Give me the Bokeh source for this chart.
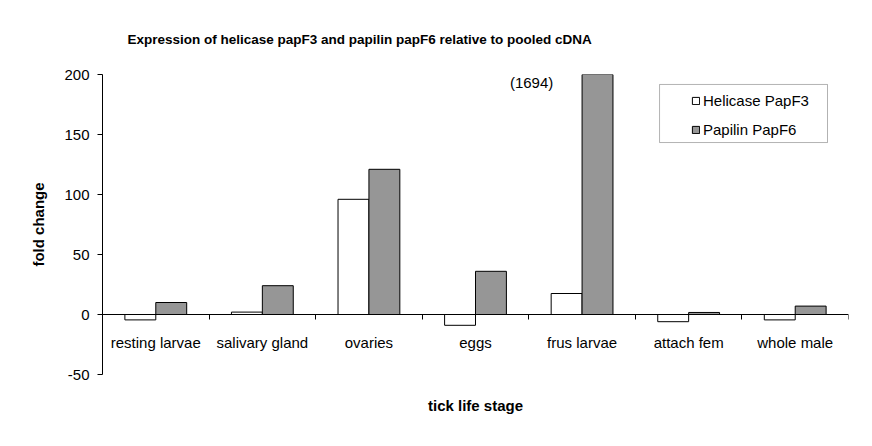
from bokeh.plotting import figure
from bokeh.models import (LinearAxis, FixedTicker, Label, Legend, LegendItem,
                          ColumnDataSource, Range1d, Title, BoxAnnotation)
from bokeh.embed import file_html
from bokeh.resources import INLINE

title_text = "Expression of helicase papF3 and papilin papF6 relative to pooled cDNA"
stages = ["resting larvae", "salivary gland", "ovaries", "eggs", "frus larvae", "attach fem", "whole male"]
helicase = [-4.5, 2, 96, -9, 17.5, -6, -4.5]
papilin = [10, 24, 121, 36, 1694, 1.7, 7]
y_ticks = [-50, 0, 50, 100, 150, 200]
FONT = "Liberation Sans"

centers = [i + 0.5 for i in range(len(stages))]
bounds = list(range(len(stages) + 1))
bw = 0.29
src_h = ColumnDataSource(dict(x=[c - bw / 2 for c in centers], top=helicase))
src_p = ColumnDataSource(dict(x=[c + bw / 2 for c in centers], top=papilin))

p = figure(width=856, height=440, output_backend="svg", toolbar_location=None,
           x_range=Range1d(0, len(stages)), y_range=Range1d(-50, 200),
           x_axis_location=None, y_axis_location="left",
           min_border_left=102, min_border_right=8, min_border_top=74, min_border_bottom=66)
p.outline_line_color = None
p.grid.visible = False
p.background_fill_color = "white"

rh = p.vbar(x="x", top="top", bottom=0, width=bw, source=src_h,
            fill_color="white", line_color="black", line_width=1)
rp = p.vbar(x="x", top="top", bottom=0, width=bw, source=src_p,
            fill_color="#969696", line_color="black", line_width=1)

# y axis
ya = p.yaxis[0]
ya.ticker = FixedTicker(ticks=y_ticks)
ya.major_label_overrides = {t: str(t) for t in y_ticks}
ya.axis_label = "fold change"
ya.axis_label_text_font = FONT
ya.axis_label_text_font_style = "bold"
ya.axis_label_text_font_size = "15px"
ya.axis_label_text_color = "black"
ya.axis_label_standoff = 14
ya.major_label_text_font = FONT
ya.major_label_text_font_size = "15px"
ya.major_label_text_color = "black"
ya.major_tick_in = 0
ya.major_tick_out = 5
ya.minor_tick_out = 0
ya.minor_tick_in = 0
ya.axis_line_color = "black"
ya.major_tick_line_color = "black"
ya.major_label_standoff = 8

# x axis at y=0 : category labels at centers, boundary ticks as minor ticks
xl = LinearAxis(ticker=FixedTicker(ticks=centers, minor_ticks=bounds), fixed_location=0,
                major_label_overrides={c: s for c, s in zip(centers, stages)},
                major_label_text_font=FONT, major_label_text_font_size="15px",
                major_label_text_color="black",
                major_tick_in=0, major_tick_out=0, minor_tick_out=5, minor_tick_in=0,
                minor_tick_line_color="black",
                major_label_standoff=14, axis_line_color="black")
p.add_layout(xl, "below")
# axis title
xa = LinearAxis(ticker=FixedTicker(ticks=[]), axis_line_color=None,
                major_tick_out=0, minor_tick_out=0,
                axis_label="tick life stage", axis_label_text_font=FONT,
                axis_label_text_font_style="bold", axis_label_text_font_size="15px",
                axis_label_text_color="black", axis_label_standoff=22)
p.add_layout(xa, "below")

p.title = Title(text=title_text, text_font=FONT, text_font_style="bold",
                text_font_size="13.5px", text_color="black", align="left",
                offset=25, vertical_align="bottom", standoff=56)

p.add_layout(Label(x=4.23, y=193, text="(" + str(papilin[4]) + ")", text_align="right",
                   text_baseline="middle", text_font=FONT, text_font_size="15px",
                   text_color="black"))

# legend frame
p.add_layout(BoxAnnotation(left=5.227, right=6.803, top=191.7, bottom=143.3,
                           fill_color="white", fill_alpha=1, line_color="black",
                           line_width=1, level="annotation"))

legend = Legend(items=[LegendItem(label="Helicase PapF3", renderers=[rh]),
                       LegendItem(label="Papilin PapF6", renderers=[rp])],
                location=(589, 236), label_text_font=FONT, label_text_font_size="15px",
                label_text_color="black",
                glyph_width=9, glyph_height=9, label_standoff=3, spacing=11,
                padding=0, margin=0, border_line_color=None,
                background_fill_alpha=0, label_height=18)
p.add_layout(legend, "center")

open("out.html", "w").write(file_html(p, INLINE))
